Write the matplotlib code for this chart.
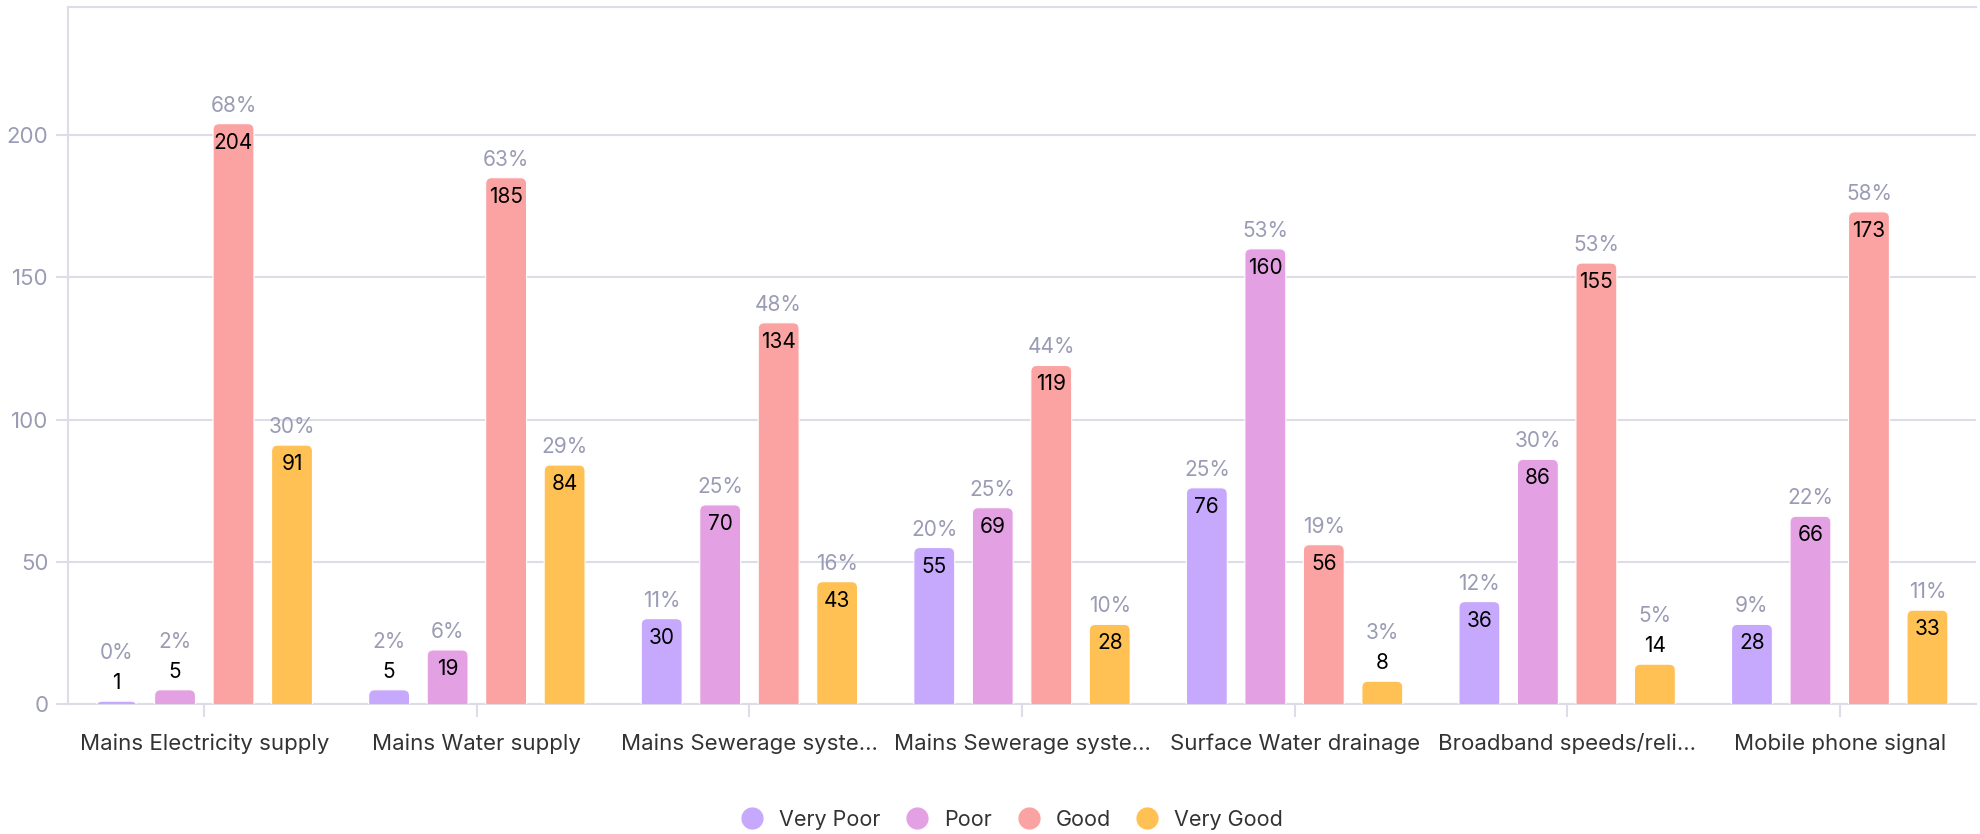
import matplotlib.pyplot as plt
from matplotlib.patches import FancyBboxPatch
from matplotlib.lines import Line2D
import numpy as np

categories = ['Mains Electricity supply', 'Mains Water supply', 'Mains Sewerage syste\u2026',
              'Mains Sewerage syste\u2026', 'Surface Water drainage', 'Broadband speeds/reli\u2026',
              'Mobile phone signal']
series = ['Very Poor', 'Poor', 'Good', 'Very Good']
very_poor = [1, 5, 30, 55, 76, 36, 28]
poor = [5, 19, 70, 69, 160, 86, 66]
good = [204, 185, 134, 119, 56, 155, 173]
very_good = [91, 84, 43, 28, 8, 14, 33]
pct_very_poor = [0, 2, 11, 20, 25, 12, 9]
pct_poor = [2, 6, 25, 25, 53, 30, 22]
pct_good = [68, 63, 48, 44, 19, 53, 58]
pct_very_good = [30, 29, 16, 10, 3, 5, 11]
colors = ['#C6A9FC', '#E3A1E3', '#FBA3A2', '#FFC153']

values = [very_poor, poor, good, very_good]
pcts = [pct_very_poor, pct_poor, pct_good, pct_very_good]

plt.rcParams['font.family'] = ['Inter', 'DejaVu Sans']
fig = plt.figure(figsize=(19.81, 8.34), dpi=100)
ax = fig.add_axes([68 / 1981, 130 / 834, 1908 / 1981, 697 / 834])

ymax = 245
ax.set_xlim(-0.5, len(categories) - 0.5)
ax.set_ylim(0, ymax)

px_x = 1908 / len(categories)
px_y = 697 / ymax
step = 0.2146
width = 0.15
r = 0.022
x = np.arange(len(categories))

for i, (vals, pc, col) in enumerate(zip(values, pcts, colors)):
    off = (i - 1.5) * step
    for j, v in enumerate(vals):
        xc = x[j] + off
        ry = r * px_x / px_y
        p = FancyBboxPatch((xc - width / 2, -ry), width, v + ry,
                           boxstyle='round,pad=0,rounding_size=%g' % r,
                           mutation_aspect=px_x / px_y,
                           fc=col, ec='white', lw=0.8, zorder=3)
        ax.add_patch(p)
        if v < 16:
            ax.annotate(str(v), (xc, v), xytext=(0, 18), textcoords='offset pixels',
                        ha='center', va='center', fontsize=15, color='black', zorder=4)
            ax.annotate('%d%%' % pc[j], (xc, v), xytext=(0, 48), textcoords='offset pixels',
                        ha='center', va='center', fontsize=15, color='#9A9BB4', zorder=4)
        else:
            ax.annotate(str(v), (xc, v), xytext=(0, -19), textcoords='offset pixels',
                        ha='center', va='center', fontsize=15, color='black', zorder=4)
            ax.annotate('%d%%' % pc[j], (xc, v), xytext=(0, 18), textcoords='offset pixels',
                        ha='center', va='center', fontsize=15, color='#9A9BB4', zorder=4)

gc = '#DCDDE9'
ax.set_yticks([0, 50, 100, 150, 200])
ax.yaxis.grid(True, color=gc, lw=1.5, zorder=0)
ax.set_xticks(x)
ax.set_xticklabels(categories, fontsize=16, color='#333333')
ax.tick_params(axis='x', length=9, width=1.5, color=gc, pad=12)
ax.tick_params(axis='y', length=9, width=1.5, color=gc, labelsize=16, labelcolor='#9A9BB4', pad=5)
for s in ['left', 'bottom', 'top']:
    ax.spines[s].set_color(gc)
    ax.spines[s].set_linewidth(1.5)
ax.spines['right'].set_visible(False)

handles = [Line2D([], [], ls='none', marker='o', markersize=15, markerfacecolor=c,
                  markeredgecolor=c) for c in colors]
fig.legend(handles, series, loc='center', bbox_to_anchor=(1007 / 1981, 1 - 820 / 834),
           ncol=4, frameon=False, fontsize=15.5, handletextpad=0.25, columnspacing=0.7,
           labelcolor='#333333')

plt.savefig('out.png', dpi=100)
